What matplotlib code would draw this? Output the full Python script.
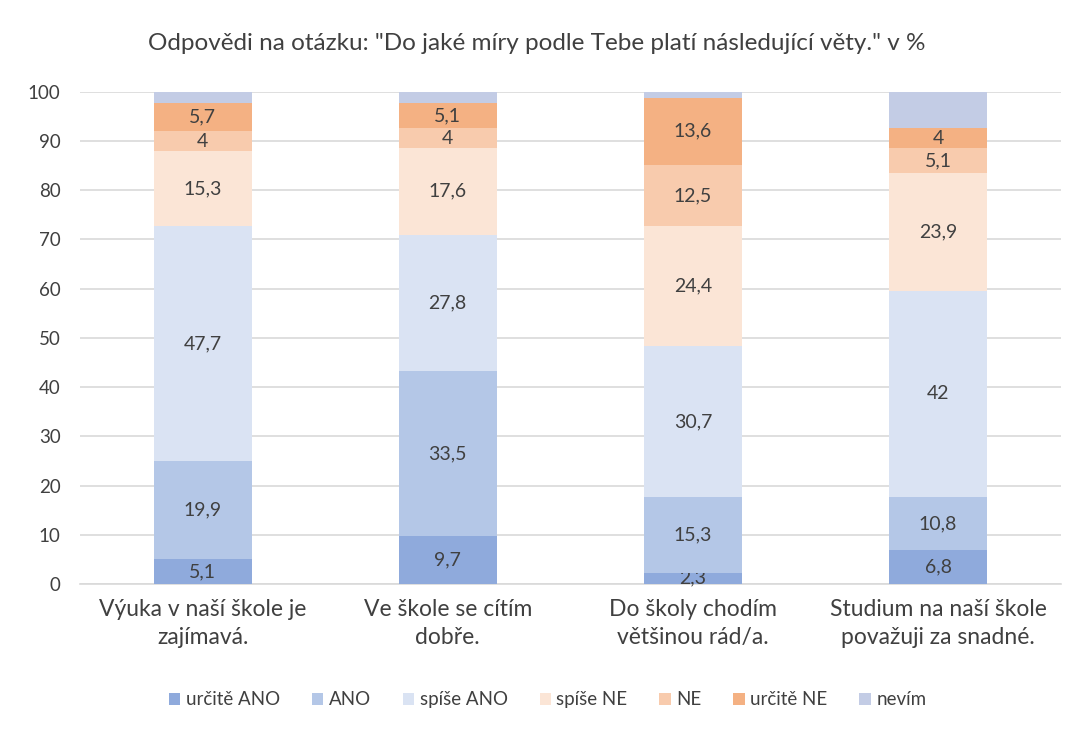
import matplotlib
matplotlib.use("Agg")
import matplotlib.pyplot as plt

plt.rcParams['font.family'] = ['Lato', 'DejaVu Sans']

categories = ["Výuka v naší škole je\nzajímavá.",
              "Ve škole se cítím\ndobře.",
              "Do školy chodím\nvětšinou rád/a.",
              "Studium na naší škole\npovažuji za snadné."]
series_names = ["určitě ANO", "ANO", "spíše ANO", "spíše NE", "NE", "určitě NE", "nevím"]
urcite_ano = [5.1, 9.7, 2.3, 6.8]
ano = [19.9, 33.5, 15.3, 10.8]
spise_ano = [47.7, 27.8, 30.7, 42]
spise_ne = [15.3, 17.6, 24.4, 23.9]
ne = [4, 4, 12.5, 5.1]
urcite_ne = [5.7, 5.1, 13.6, 4]
nevim = [2.3, 2.3, 1.2, 7.4]
show_labels = [True, True, True, True, True, True, False]

colors = ["#8FAADC", "#B4C7E7", "#DAE3F3", "#FBE5D6", "#F8CBAD", "#F4B183", "#C3CCE5"]
text_color = "#404040"

series = [urcite_ano, ano, spise_ano, spise_ne, ne, urcite_ne, nevim]

fig = plt.figure(figsize=(10.74, 7.29), dpi=100)
ax = fig.add_axes([0.0745, 0.199, 0.913, 0.675])

x = range(len(categories))
bottom = [0.0] * len(categories)
for name, vals, col, lab in zip(series_names, series, colors, show_labels):
    bars = ax.bar(x, vals, width=0.4, bottom=bottom, color=col, label=name, zorder=3)
    if lab:
        labels = [f"{v:g}".replace(".", ",") for v in vals]
        ax.bar_label(bars, labels=labels, label_type='center', fontsize=14, color=text_color)
    bottom = [b + v for b, v in zip(bottom, vals)]

ax.set_xlim(-0.5, 3.5)
ax.set_ylim(0, 100)
ax.set_yticks(range(0, 101, 10))
ax.yaxis.grid(True, color="#D9D9D9", linewidth=1.2, zorder=0)
ax.set_axisbelow(True)
for s in ["top", "right", "left"]:
    ax.spines[s].set_visible(False)
ax.spines["bottom"].set_color("#D9D9D9")
ax.spines["bottom"].set_linewidth(1.2)
ax.tick_params(axis='y', length=0, labelsize=13.5, labelcolor=text_color, pad=14)
ax.tick_params(axis='x', length=0, labelsize=16.5, labelcolor=text_color, pad=11)
ax.set_xticks(list(x))
ax.set_xticklabels(categories, linespacing=1.4)

fig.suptitle('Odpovědi na otázku: "Do jaké míry podle Tebe platí následující věty." v %',
             y=0.955, fontsize=17.5, color=text_color)

fig.legend(loc='center', bbox_to_anchor=(0.51, 0.04), ncol=7, frameon=False,
           fontsize=13.5, labelcolor=text_color, handlelength=0.6, handleheight=0.6,
           handletextpad=0.3, columnspacing=1.7)

fig.savefig("out.png", dpi=100)
